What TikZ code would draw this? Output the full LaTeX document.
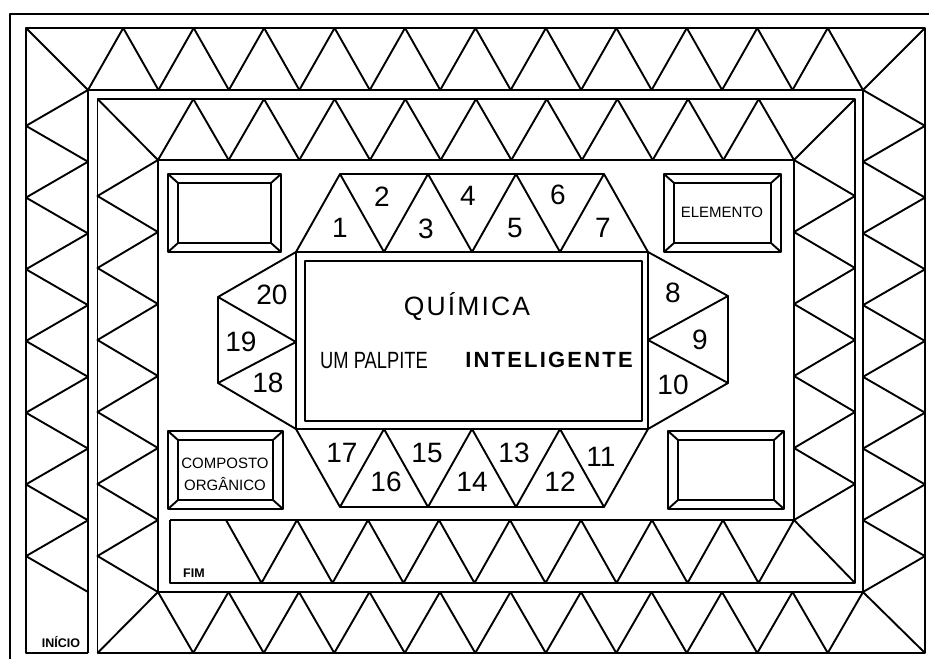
\documentclass[tikz,border=0pt]{standalone}
\usepackage{fontspec}
\setmainfont{Liberation Sans}
% framed box with bevelled corners: x1, y1, x2, y2
\newcommand{\bevelbox}[4]{%
  \draw (#1,#2) rectangle (#3,#4);
  \draw ({#1+10},{#2+9}) rectangle ({#3-10},{#4-9});
  \draw (#1,#2) -- ({#1+10},{#2+9}) (#3,#2) -- ({#3-10},{#2+9})
        (#1,#4) -- ({#1+10},{#4-9}) (#3,#4) -- ({#3-10},{#4-9});}
\begin{document}
\begin{tikzpicture}[x=1pt, y=-1pt, line width=1.9pt, line join=round,
  num/.style={font=\fontsize{28}{28}\selectfont},
  boxlabel/.style={anchor=base, font=\fontsize{15}{15}\selectfont},
  marker/.style={anchor=base, font=\bfseries\fontsize{12.5}{13}\selectfont}]
\useasboundingbox (0,0) rectangle (929,659);
% page frame
\draw[line width=2.6pt] (929,14) -- (10,14) -- (10,659);
% spiral track
\draw (88,653) -- (26,653) -- (26,28) -- (925,28) -- (925,653) -- (97.5,653)
  -- (97.5,99) -- (855,99) -- (855,583) -- (170,583) -- (170,520);
\draw (88,653) -- (88,90) -- (863,90) -- (863,592) -- (158,592)
  -- (158,160) -- (794,160) -- (794,520) -- (170,520);
% corners
\draw (26,28) -- (88,90);
\draw (925,28) -- (863,90);
\draw (925,653) -- (863,592);
\draw (97.5,653) -- (158,592);
\draw (97.5,99) -- (158,160);
\draw (855,99) -- (794,160);
\draw (855,583) -- (794,520);
% outer lap
\foreach \i in {0,...,6} {
  \draw (88,{90+71.71*\i}) -- (26,{125.86+71.71*\i}) -- (88,{161.71+71.71*\i});
  \draw (863,{90+71.71*\i}) -- (925,{125.86+71.71*\i}) -- (863,{161.71+71.71*\i});
}
\foreach \i in {0,...,10}
  \draw ({88+70.45*\i},90) -- ({123.23+70.45*\i},28) -- ({158.45+70.45*\i},90);
\foreach \i in {0,...,9}
  \draw ({158+70.5*\i},592) -- ({193.25+70.5*\i},653) -- ({228.5+70.5*\i},592);
% inner lap
\foreach \i in {0,...,5}
  \draw (158,{160+72*\i}) -- (97.5,{196+72*\i}) -- (158,{232+72*\i});
\foreach \i in {0,...,8}
  \draw ({158+70.67*\i},160) -- ({193.33+70.67*\i},99) -- ({228.67+70.67*\i},160);
\foreach \i in {0,...,4}
  \draw (794,{160+72*\i}) -- (855,{196+72*\i}) -- (794,{232+72*\i});
\foreach \i in {0,...,7}
  \draw ({794-71*\i},520) -- ({758.5-71*\i},583) -- ({723-71*\i},520);
% card boxes
\bevelbox{168}{174}{281}{252}
\bevelbox{664}{174}{781}{252}
\bevelbox{168}{431}{283}{509}
\bevelbox{668}{431}{784}{509}
% ring of numbered triangles
\draw (296,252) -- (340,174) -- (604,174) -- (648,252) -- (728,296) -- (728,383)
  -- (648,429) -- (604,507) -- (340,507) -- (296,429) -- (218,383) -- (218,297) -- cycle;
\draw (296,252) rectangle (648,429);
\draw (340,174) -- (384,252) -- (428,174) -- (472,252) -- (516,174) -- (560,252) -- (604,174);
\draw (340,507) -- (384,429) -- (428,507) -- (472,429) -- (516,507) -- (560,429) -- (604,507);
\draw (218,297) -- (296,342) -- (218,383);
\draw (728,296) -- (648,340) -- (728,383);
\draw (305,261) rectangle (642,421);
% numbers
\node[num] (n1) at (340,228) {1};
\node[num] (n2) at (382,197) {2};
\node[num] (n3) at (426,229) {3};
\node[num] (n4) at (468,196) {4};
\node[num] (n5) at (515,228) {5};
\node[num] (n6) at (558,195) {6};
\node[num] (n7) at (603,228) {7};
\node[num] (n8) at (673,293) {8};
\node[num] (n9) at (700,340) {9};
\node[num] (n10) at (673,385) {10};
\node[num] (n11) at (601,457) {11};
\node[num] (n12) at (560,482) {12};
\node[num] (n13) at (514,453) {13};
\node[num] (n14) at (472,482) {14};
\node[num] (n15) at (427,453) {15};
\node[num] (n16) at (386,482) {16};
\node[num] (n17) at (342,453) {17};
\node[num] (n18) at (268,383) {18};
\node[num] (n19) at (241,342) {19};
\node[num] (n20) at (272,295) {20};
% titles
\node[anchor=base, font=\fontsize{26.5}{27}\selectfont\addfontfeature{LetterSpace=8}] (quimica) at (467,315) {QUÍMICA};
\node[anchor=base] (palpite) at (374,368) {\scalebox{0.78}[1]{\fontsize{23.5}{24}\selectfont UM PALPITE}};
\node[anchor=base, font=\bfseries\fontsize{22}{22}\selectfont\addfontfeature{LetterSpace=10}] (inteligente) at (549,367) {INTELIGENTE};
% box labels
\node[boxlabel] (elemento) at (722,217) {ELEMENTO};
\node[boxlabel] (composto) at (225,468) {COMPOSTO};
\node[boxlabel] (organico) at (225,490) {ORGÂNICO};
\node[marker] (fim) at (194,577) {FIM};
\node[marker] (inicio) at (61,647) {INÍCIO};
\end{tikzpicture}
\end{document}
